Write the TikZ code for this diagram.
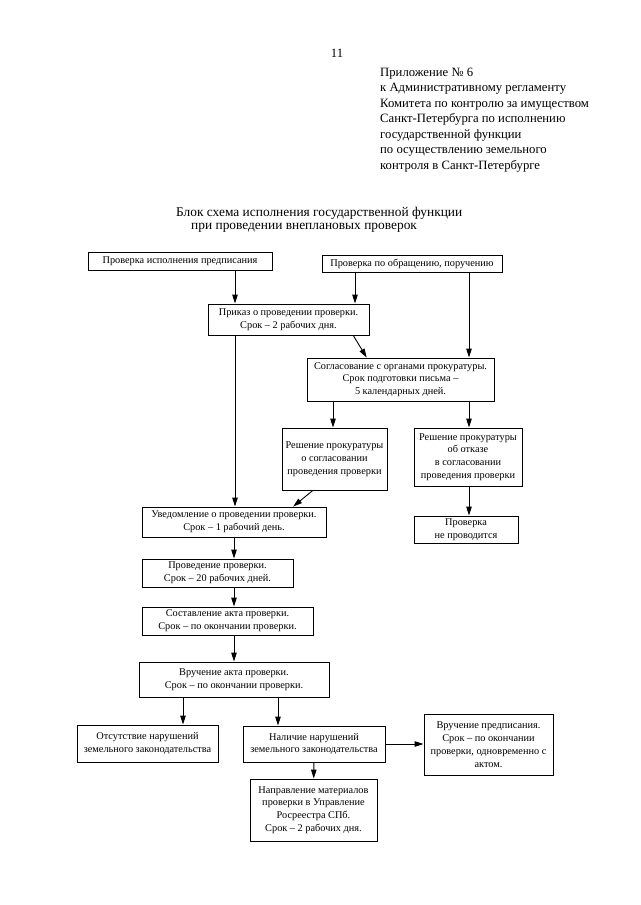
\documentclass[tikz,border=0pt]{standalone}
\usepackage{fontspec}
\setmainfont{Liberation Serif}
\usetikzlibrary{arrows.meta,calc}

\tikzset{
  blk/.style={draw, line width=0.9pt, align=center, inner sep=1pt,
    font=\fontsize{10.3}{12.8}\selectfont},
  arr/.style={line width=0.9pt, -{Triangle[length=9pt,width=5.5pt]}},
  hdr/.style={align=left, inner sep=0pt, font=\fontsize{12.7}{15.5}\selectfont}
}

\begin{document}
\begin{tikzpicture}[x=1pt,y=-1pt]
                    \useasboundingbox (0,0) rectangle (640,905);
                    \node[hdr] (page) at (337,53) {11};
                    \node[hdr, anchor=west] (appx) at (380,120) {Приложение № 6\\
                      к Административному регламенту\\
                      Комитета по контролю за имуществом\\
                      Санкт-Петербурга по исполнению\\
                      государственной функции\\
                      по осуществлению земельного\\
                      контроля в Санкт-Петербурге};
                    \node[hdr, anchor=west, font=\fontsize{13.4}{15}\selectfont] (ttl1) at (176,213) {Блок схема исполнения государственной функции};
                    \node[hdr, anchor=west, font=\fontsize{13.4}{15}\selectfont] (ttl2) at (191,227.5) {при проведении внеплановых проверок};
                    % boxes
                    \node[blk, minimum width=184, minimum height=18] (pr) at (180,261) {Проверка исполнения предписания};
                    \node[blk, minimum width=180, minimum height=17] (ob) at (412,263.5) {Проверка по обращению, поручению};
                    \node[blk, minimum width=161, minimum height=31] (prk) at (288.5,319.5) {Приказ о проведении проверки.\\ Срок -- 2 рабочих дня.};
                    \node[blk, minimum width=187, minimum height=43] (sogl) at (400.5,379.5) {Согласование с органами прокуратуры.\\ Срок подготовки письма --\\ 5 календарных дней.};
                    \node[blk, minimum width=105, minimum height=62] (resh) at (334.5,459) {Решение прокуратуры\\ о согласовании\\ проведения проверки};
                    \node[blk, minimum width=108, minimum height=58] (otk) at (468,457) {Решение прокуратуры\\ об отказе\\ в согласовании\\ проведения проверки};
                    \node[blk, minimum width=104, minimum height=27] (nep) at (466,529.5) {Проверка\\ не проводится};
                    \node[blk, minimum width=184, minimum height=30] (uv) at (234,522) {Уведомление о проведении проверки.\\ Срок -- 1 рабочий день.};
                    \node[blk, minimum width=151, minimum height=28] (prov) at (217.5,573) {Проведение проверки.\\ Срок -- 20 рабочих дней.};
                    \node[blk, minimum width=171, minimum height=28] (sost) at (227.5,621) {Составление акта проверки.\\ Срок -- по окончании проверки.};
                    \node[blk, minimum width=190, minimum height=35] (vr) at (234,679.5) {Вручение акта проверки.\\ Срок -- по окончании проверки.};
                    \node[blk, minimum width=141, minimum height=37] (ots) at (147.5,743.5) {Отсутствие нарушений\\ земельного законодательства};
                    \node[blk, minimum width=142, minimum height=36] (nal) at (314,744) {Наличие нарушений\\ земельного законодательства};
                    \node[blk, minimum width=129, minimum height=61] (vpr) at (488.5,744.5) {Вручение предписания.\\ Срок -- по окончании\\ проверки, одновременно с\\ актом.};
                    \node[blk, minimum width=127, minimum height=62] (napr) at (313.5,810) {Направление материалов\\ проверки в Управление\\ Росреестра СПб.\\ Срок -- 2 рабочих дня.};
                    % arrow columns
                    \coordinate (c1) at (235,0);
                    \coordinate (c2) at (355,0);
                    \coordinate (c3) at (469,0);
                    \coordinate (c4) at (333,0);
                    \coordinate (c5) at (183,0);
                    \coordinate (c6) at (278,0);
                    \draw[arr] (pr.south -| c1) -- (prk.north -| c1);
                    \draw[arr] (ob.south -| c2) -- (prk.north -| c2);
                    \draw[arr] (ob.south -| c3) -- (sogl.north -| c3);
                    \draw[arr] (prk.south -| c1) -- (uv.north -| c1);
                    \draw[arr] ($(prk.south west)!0.900!(prk.south east)$) -- ($(sogl.north west)!0.320!(sogl.north east)$);
                    \draw[arr] (sogl.south -| c4) -- (resh.north -| c4);
                    \draw[arr] (sogl.south -| c3) -- (otk.north -| c3);
                    \draw[arr] (otk.south -| c3) -- (nep.north -| c3);
                    \draw[arr] ($(resh.south west)!0.295!(resh.south east)$) -- ($(uv.north west)!0.820!(uv.north east)$);
                    \draw[arr] (uv) -- (prov.north -| uv);
                    \draw[arr] (prov.south -| uv) -- (sost.north -| uv);
                    \draw[arr] (sost.south -| uv) -- (vr);
                    \draw[arr] (vr.south -| c5) -- (ots.north -| c5);
                    \draw[arr] (vr.south -| c6) -- (nal.north -| c6);
                    \draw[arr] (nal.east) -- (vpr.west |- nal.east);
                    \draw[arr] (nal) -- (napr);
                \end{tikzpicture}
\end{document}
